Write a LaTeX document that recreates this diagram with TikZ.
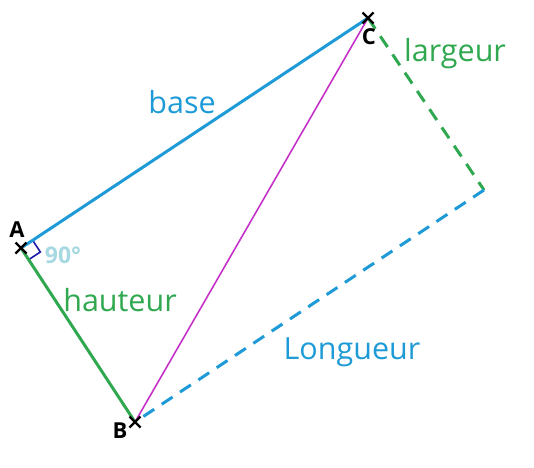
\documentclass[tikz,border=0pt]{standalone}
\usepackage{fontspec}
\setmainfont{Open Sans}
\usetikzlibrary{calc}
\definecolor{cblue}{HTML}{1E9BD7}
\definecolor{cgreen}{HTML}{2FA84F}
\definecolor{cmag}{HTML}{C532C8}
\definecolor{cang}{HTML}{1A1AA8}
\definecolor{clight}{HTML}{A6D8E2}
\tikzset{
  side/.style={line width=3pt},
  dside/.style={line width=3pt, dash pattern=on 13pt off 9pt},
  lbl/.style={font=\fontsize{30.5}{33}\selectfont, inner sep=0pt},
  pt/.style={font=\bfseries\fontsize{22}{24}\selectfont, inner sep=0pt},
  cross/.style={line width=2.2pt, black}
}
\begin{document}
\begin{tikzpicture}[x=1pt,y=-1pt]
\useasboundingbox (0,0) rectangle (534,467);
\coordinate (A) at (21,248);
\coordinate (B) at (135,422);
\coordinate (C) at (368,18);
\coordinate (D) at (484,190);
% right angle
\draw[cang, line width=1.6pt] ($(A)!14pt!(C)$) -- ($(A)!14pt!(C) + (A)!14pt!(B) - (A)$) -- ($(A)!14pt!(B)$);
\draw[side, cblue] (A) -- (C);
\draw[side, cgreen] (A) -- (B);
\draw[line width=1.6pt, cmag] (B) -- (C);
\draw[dside, cgreen] (C) -- (D);
\draw[dside, cblue] (D) -- (B);
% crosses
\foreach \p in {A,B,C}{
  \draw[cross] ($(\p)+(-5.5,-5.5)$) -- ($(\p)+(5.5,5.5)$);
  \draw[cross] ($(\p)+(-5.5,5.5)$) -- ($(\p)+(5.5,-5.5)$);
}
\node[pt] (la) at (17,230) {A};
\node[pt] (lb) at (120,431) {B};
\node[pt] (lc) at (369,37) {C};
\node[font=\bfseries\fontsize{23}{25}\selectfont, inner sep=0pt, clight] (ang) at (63,255) {90°};
\node[lbl, cblue] (base) at (182,102) {base};
\node[lbl, cgreen] (larg) at (455,54) {largeur};
\node[lbl, cgreen] (haut) at (120,300) {hauteur};
\node[lbl, cblue] (long) at (352,352) {Longueur};
\end{tikzpicture}
\end{document}
